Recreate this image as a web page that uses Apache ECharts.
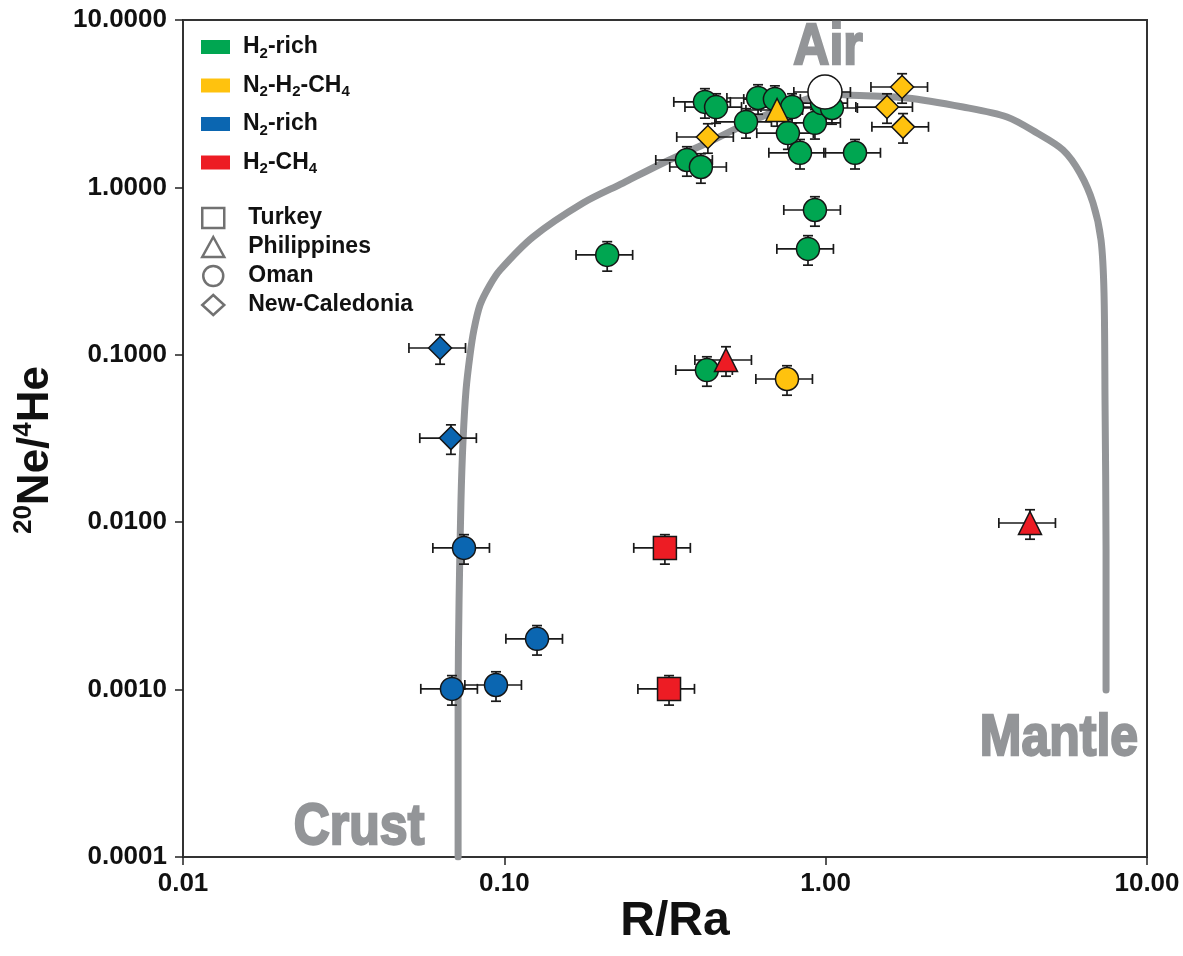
<!DOCTYPE html>
<html><head><meta charset="utf-8">
<script src="https://cdn.jsdelivr.net/npm/echarts@6/dist/echarts.min.js"></script>
<style>html,body{margin:0;padding:0;background:#fff}#c{width:1183px;height:956px}</style>
</head><body><div id="c"></div>
<script>
// ---------- data ----------
const xTickLabels = ['0.01', '0.10', '1.00', '10.00'];
const yTickLabels = ['0.0001', '0.0010', '0.0100', '0.1000', '1.0000', '10.0000'];
const groupNames = ['H2-rich', 'N2-H2-CH4', 'N2-rich', 'H2-CH4'];
const siteNames = ['Turkey', 'Philippines', 'Oman', 'New-Caledonia'];

// H2-rich (all Oman)
const h2richRRa  = [0.421, 0.456, 0.616, 0.695, 0.786, 0.565, 0.763, 0.926, 0.974, 1.046, 0.832, 1.234, 0.370, 0.409, 0.926, 0.881, 0.209, 0.427];
const h2richNeHe = [3.24, 3.02, 3.42, 3.37, 3.02, 2.46, 2.11, 2.43, 3.19, 2.98, 1.61, 1.61, 1.458, 1.324, 0.733, 0.429, 0.395, 0.0811];
const h2richSite = ['Oman','Oman','Oman','Oman','Oman','Oman','Oman','Oman','Oman','Oman','Oman','Oman','Oman','Oman','Oman','Oman','Oman','Oman'];

// N2-H2-CH4
const n2h2ch4RRa  = [0.706, 1.729, 1.552, 1.741, 0.430, 0.758];
const n2h2ch4NeHe = [2.90, 3.98, 3.02, 2.30, 2.00, 0.0717];
const n2h2ch4Site = ['Philippines','New-Caledonia','New-Caledonia','New-Caledonia','New-Caledonia','Oman'];

// N2-rich
const n2richRRa  = [0.0631, 0.0682, 0.0749, 0.1264, 0.0687, 0.0942];
const n2richNeHe = [0.1098, 0.0318, 0.00702, 0.00201, 0.00101, 0.001065];
const n2richSite = ['New-Caledonia','New-Caledonia','Oman','Oman','Oman','Oman'];

// H2-CH4
const h2ch4RRa  = [0.316, 0.3255, 0.4896, 4.324];
const h2ch4NeHe = [0.00702, 0.00101, 0.0931, 0.00989];
const h2ch4Site = ['Turkey','Turkey','Philippines','Philippines'];

// Air reference point
const airRRa = [0.995];
const airNeHe = [3.715];

// relative uncertainty on both axes
const REL_ERR = 0.20;

// Crust - Air - Mantle mixing curve (traced)
const curveRRa  = [0.0718, 0.0718, 0.0723, 0.0733, 0.0744, 0.0760, 0.0782, 0.0804, 0.0840, 0.0902, 0.0970, 0.1228, 0.1757, 0.2340, 0.3117, 0.427, 0.5814, 0.7364, 0.894, 1.031, 1.165, 1.791, 2.676, 3.667, 4.548, 5.478, 6.187, 6.792, 7.193, 7.349, 7.402, 7.457, 7.457];
const curveNeHe = [0.0001, 0.000867, 0.00343, 0.01357, 0.031, 0.0616, 0.0997, 0.1406, 0.1983, 0.2612, 0.3210, 0.5056, 0.8069, 1.062, 1.399, 1.841, 2.459, 2.98, 3.42, 3.61, 3.565, 3.42, 3.02, 2.634, 2.113, 1.673, 1.219, 0.807, 0.485, 0.234, 0.0537, 0.00682, 0.000995];

// ---------- styling ----------
const FONT = 'Liberation Sans, Arial, Helvetica, sans-serif';
const groupColors = ['#00A651', '#FFC20E', '#0B66B1', '#ED1C24'];
const siteSymbols = { 'Turkey': 'rect', 'Philippines': 'triangle', 'Oman': 'circle', 'New-Caledonia': 'diamond' };
const CURVE_COLOR = '#939598';

const groups = [
  [h2richRRa, h2richNeHe, h2richSite],
  [n2h2ch4RRa, n2h2ch4NeHe, n2h2ch4Site],
  [n2richRRa, n2richNeHe, n2richSite],
  [h2ch4RRa, h2ch4NeHe, h2ch4Site]
];

const errData = [];
groups.forEach(g => g[0].forEach((x, i) => errData.push([x, g[1][i]])));
airRRa.forEach((x, i) => errData.push([x, airNeHe[i]]));

function renderErr(params, api) {
  const x = api.value(0), y = api.value(1);
  const l = api.coord([x * (1 - REL_ERR), y]);
  const r = api.coord([x * (1 + REL_ERR), y]);
  const t = api.coord([x, y * (1 + REL_ERR)]);
  const b = api.coord([x, y * (1 - REL_ERR)]);
  const cap = 5;
  const st = { stroke: '#1a1a1a', lineWidth: 1.7 };
  const ln = (x1, y1, x2, y2) => ({ type: 'line', shape: { x1, y1, x2, y2 }, style: st });
  return {
    type: 'group',
    children: [
      ln(l[0], l[1], r[0], r[1]),
      ln(l[0], l[1] - cap, l[0], l[1] + cap),
      ln(r[0], r[1] - cap, r[0], r[1] + cap),
      ln(t[0], t[1], b[0], b[1]),
      ln(t[0] - cap, t[1], t[0] + cap, t[1]),
      ln(b[0] - cap, b[1], b[0] + cap, b[1])
    ]
  };
}

const series = [];
series.push({
  type: 'line', name: 'curve', silent: true, z: 1,
  data: curveRRa.map((x, i) => [x, curveNeHe[i]]),
  showSymbol: false, smooth: 0.3,
  lineStyle: { color: CURVE_COLOR, width: 7, cap: 'round', join: 'round' }
});
series.push({
  type: 'custom', name: 'err', silent: true, z: 2,
  renderItem: renderErr, data: errData, encode: { x: 0, y: 1 }
});
groups.forEach((g, gi) => {
  series.push({
    type: 'scatter', name: groupNames[gi], z: 3,
    symbolSize: 23,
    data: g[0].map((x, i) => ({ value: [x, g[1][i]], symbol: siteSymbols[g[2][i]] })),
    itemStyle: { color: groupColors[gi], borderColor: '#151515', borderWidth: 1.5, opacity: 1 }
  });
});
series.push({
  type: 'scatter', name: 'Air', z: 4, symbol: 'circle', symbolSize: 34,
  data: airRRa.map((x, i) => [x, airNeHe[i]]),
  itemStyle: { color: '#ffffff', borderColor: '#151515', borderWidth: 1.5, opacity: 1 }
});
siteNames.forEach(s => {
  series.push({
    type: 'scatter', name: s, symbol: siteSymbols[s], data: [],
    itemStyle: { color: '#ffffff', borderColor: '#4d4d4d', borderWidth: 2.5 }
  });
});

const subFmt = n => n.replace(/(\d)/g, '{s|$1}');
const bigLabel = (text, x, y) => ({
  type: 'text', x: x, y: y, scaleY: 1.15, z: 0, silent: true,
  style: { text: text, fontSize: 50, fontWeight: 'bold', fontFamily: FONT, fill: CURVE_COLOR,
           stroke: CURVE_COLOR, lineWidth: 2, align: 'center', verticalAlign: 'middle' }
});

const option = {
  backgroundColor: '#ffffff',
  animation: false,
  grid: { left: 183, right: 36, top: 20, bottom: 99, show: true, borderColor: '#333', borderWidth: 2, backgroundColor: 'transparent' },
  xAxis: {
    type: 'log', logBase: 10, min: 0.01, max: 10,
    axisLine: { show: true, onZero: false, lineStyle: { color: '#333', width: 2 } },
    axisTick: { show: true, length: 8, lineStyle: { color: '#222', width: 1.5 } },
    minorTick: { show: false }, splitLine: { show: false },
    axisLabel: {
      fontSize: 26, fontWeight: 'bold', color: '#111', fontFamily: FONT, margin: 14,
      formatter: v => xTickLabels[Math.round(Math.log10(v)) + 2]
    }
  },
  yAxis: {
    type: 'log', logBase: 10, min: 0.0001, max: 10,
    axisLine: { show: true, onZero: false, lineStyle: { color: '#333', width: 2 } },
    axisTick: { show: true, length: 8, lineStyle: { color: '#222', width: 1.5 } },
    minorTick: { show: false }, splitLine: { show: false },
    axisLabel: {
      fontSize: 26, fontWeight: 'bold', color: '#111', fontFamily: FONT, margin: 16,
      formatter: v => yTickLabels[Math.round(Math.log10(v)) + 4]
    }
  },
  legend: [
    {
      orient: 'vertical', left: 201, top: 33, padding: 0, itemWidth: 29, itemHeight: 14, itemGap: 10.5,
      selectedMode: false,
      data: groupNames.map(n => ({ name: n, icon: 'rect', itemStyle: { borderWidth: 0 } })),
      formatter: subFmt,
      textStyle: {
        fontSize: 23, fontWeight: 'bold', color: '#111', fontFamily: FONT, lineHeight: 28, padding: [0, 0, 0, 8],
        rich: { s: { fontSize: 15, fontWeight: 'bold', color: '#111', fontFamily: FONT, lineHeight: 14, verticalAlign: 'bottom' } }
      }
    },
    {
      orient: 'vertical', left: 201, top: 206, padding: 0, itemWidth: 22, itemHeight: 20, itemGap: 5,
      selectedMode: false,
      data: siteNames.map(n => ({ name: n, icon: siteSymbols[n], itemStyle: { color: '#ffffff', borderColor: '#4d4d4d', borderWidth: 2.5 } })),
      textStyle: { fontSize: 23, fontWeight: 'bold', color: '#111', fontFamily: FONT, lineHeight: 24, padding: [0, 0, 0, 19] }
    }
  ],
  graphic: [
    bigLabel('Air', 828, 48),
    bigLabel('Crust', 359, 828),
    bigLabel('Mantle', 1059, 739),
    { type: 'text', x: 675, y: 922, silent: true,
      style: { text: 'R/Ra', fontSize: 48, fontWeight: 'bold', fontFamily: FONT, fill: '#111', align: 'center', verticalAlign: 'middle' } },
    { type: 'text', x: 36, y: 450, rotation: Math.PI / 2, silent: true,
      style: {
        text: '{p|20}Ne/{p|4}He', fontSize: 44, fontWeight: 'bold', fontFamily: FONT, fill: '#111',
        align: 'center', verticalAlign: 'middle', lineHeight: 50,
        rich: { p: { fontSize: 26, fontWeight: 'bold', fontFamily: FONT, fill: '#111', lineHeight: 26, verticalAlign: 'top' } }
      } }
  ],
  series: series
};

const chart = echarts.init(document.getElementById('c'), null, { renderer: 'canvas' });
chart.setOption(option);
</script>
</body></html>
